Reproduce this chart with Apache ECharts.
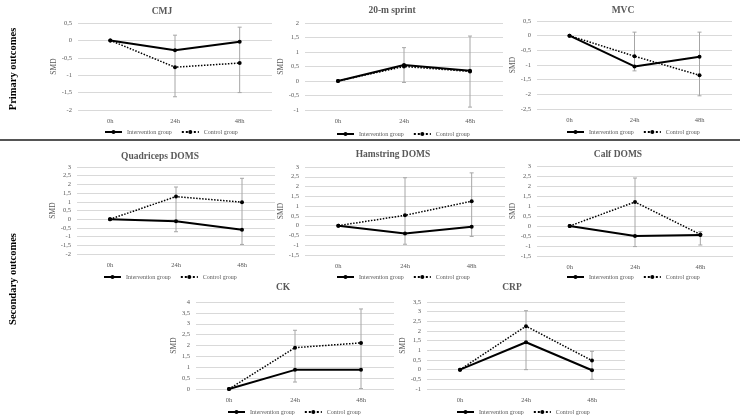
<!DOCTYPE html>
<html>
<head>
<meta charset="utf-8">
<script src="https://cdn.jsdelivr.net/npm/echarts@6/dist/echarts.min.js"></script>
<style>
  html, body { margin: 0; background: #fff; }
  #chart { width: 740px; height: 417px; }
</style>
</head>
<body>
<div id="chart"></div>
<script>
// time points
const times = ['0h', '24h', '48h'];

// values (SMD); top/bot = ends of the error bars
const cmjInt = [0, -0.28, -0.04];
const cmjCtl = [0, -0.77, -0.65];
const cmjTop = [null, 0.15, 0.38];
const cmjBot = [null, -1.62, -1.5];

const sprintInt = [0, 0.55, 0.35];
const sprintCtl = [0, 0.5, 0.33];
const sprintTop = [null, 1.15, 1.55];
const sprintBot = [null, -0.05, -0.9];

const mvcInt = [0, -1.05, -0.72];
const mvcCtl = [0, -0.7, -1.35];
const mvcTop = [null, 0.12, 0.12];
const mvcBot = [null, -1.2, -2.05];

const quadInt = [0, -0.12, -0.6];
const quadCtl = [0, 1.3, 0.98];
const quadTop = [null, 1.85, 2.35];
const quadBot = [null, -0.72, -1.45];

const hamInt = [0, -0.4, -0.05];
const hamCtl = [0, 0.53, 1.25];
const hamTop = [null, 2.45, 2.7];
const hamBot = [null, -0.95, -0.55];

const calfInt = [0, -0.5, -0.45];
const calfCtl = [0, 1.2, -0.42];
const calfTop = [null, 2.4, -0.28];
const calfBot = [null, -1.03, -0.95];

const ckInt = [0, 0.88, 0.88];
const ckCtl = [0, 1.9, 2.12];
const ckTop = [null, 2.7, 3.68];
const ckBot = [null, 0.32, 0.02];

const crpInt = [0, 1.42, -0.03];
const crpCtl = [0, 2.25, 0.47];
const crpTop = [null, 3.05, 0.95];
const crpBot = [null, 0, -0.5];

const panels = [
  { title: 'CMJ', int: cmjInt, ctl: cmjCtl, hi: cmjTop, lo: cmjBot, min: -2, max: 0.5, x: 78, y: 23, w: 194, h: 87, cx: 162, ty: 12, ly: 124, lx: 161 },
  { title: '20-m sprint', int: sprintInt, ctl: sprintCtl, hi: sprintTop, lo: sprintBot, min: -1, max: 2, x: 305, y: 23, w: 198, h: 87, cx: 392, ty: 11, ly: 126, lx: 393 },
  { title: 'MVC', int: mvcInt, ctl: mvcCtl, hi: mvcTop, lo: mvcBot, min: -2.5, max: 0.5, x: 537, y: 21, w: 195, h: 88, cx: 623, ty: 11, ly: 124, lx: 623 },
  { title: 'Quadriceps DOMS', int: quadInt, ctl: quadCtl, hi: quadTop, lo: quadBot, min: -2, max: 3, x: 77, y: 167, w: 198, h: 87, cx: 160, ty: 157, ly: 269, lx: 160 },
  { title: 'Hamstring DOMS', int: hamInt, ctl: hamCtl, hi: hamTop, lo: hamBot, min: -1.5, max: 3, x: 305, y: 167, w: 200, h: 88, cx: 393, ty: 155, ly: 269, lx: 393 },
  { title: 'Calf DOMS', int: calfInt, ctl: calfCtl, hi: calfTop, lo: calfBot, min: -1.5, max: 3, x: 537, y: 166, w: 196, h: 90, cx: 618, ty: 155, ly: 269, lx: 623 },
  { title: 'CK', int: ckInt, ctl: ckCtl, hi: ckTop, lo: ckBot, min: 0, max: 4, x: 196, y: 302, w: 198, h: 87, cx: 283, ty: 288, ly: 404, lx: 284 },
  { title: 'CRP', int: crpInt, ctl: crpCtl, hi: crpTop, lo: crpBot, min: -1, max: 3.5, x: 427, y: 302, w: 198, h: 87, cx: 512, ty: 288, ly: 404, lx: 513 }
];

const serif = '"Liberation Serif", "DejaVu Serif", serif';
const gray = '#595959';

function renderErr(params, api) {
  const x = api.value(0);
  const lo = api.coord([x, api.value(1)]);
  const hi = api.coord([x, api.value(2)]);
  const c = 2;
  const st = { stroke: '#a6a6a6', lineWidth: 1 };
  return {
    type: 'group',
    children: [
      { type: 'line', shape: { x1: lo[0], y1: lo[1], x2: hi[0], y2: hi[1] }, style: st },
      { type: 'line', shape: { x1: lo[0] - c, y1: lo[1], x2: lo[0] + c, y2: lo[1] }, style: st },
      { type: 'line', shape: { x1: hi[0] - c, y1: hi[1], x2: hi[0] + c, y2: hi[1] }, style: st }
    ]
  };
}

const grid = [], xAxis = [], yAxis = [], series = [], legend = [], graphic = [];

panels.forEach((p, i) => {
  grid.push({ left: p.x, top: p.y, width: p.w, height: p.h });
  xAxis.push({
    type: 'category', gridIndex: i, data: times,
    axisLine: { show: false }, axisTick: { show: false },
    axisLabel: { fontSize: 6.5, color: gray, fontFamily: serif, margin: 8 }
  });
  yAxis.push({
    type: 'value', gridIndex: i, min: p.min, max: p.max, interval: 0.5,
    name: 'SMD', nameLocation: 'middle', nameGap: 16,
    nameTextStyle: { fontSize: 7.5, color: gray, fontFamily: serif },
    axisLine: { show: false }, axisTick: { show: false },
    axisLabel: { fontSize: 6.5, color: gray, fontFamily: serif, margin: 6,
      formatter: v => String(v).replace('.', ',') },
    splitLine: { lineStyle: { color: '#d9d9d9', width: 1 } }
  });

  const errData = [];
  p.hi.forEach((h, k) => {
    if (h !== null) errData.push([k, p.lo[k], h]);
  });
  series.push({
    type: 'custom', name: 'err', xAxisIndex: i, yAxisIndex: i,
    renderItem: renderErr, data: errData, z: 1, silent: true
  });
  series.push({
    type: 'line', name: 'Intervention group', xAxisIndex: i, yAxisIndex: i,
    data: p.int, symbol: 'circle', symbolSize: 4,
    lineStyle: { color: '#000', width: 2 }, itemStyle: { color: '#000' }, z: 3
  });
  series.push({
    type: 'line', name: 'Control group', xAxisIndex: i, yAxisIndex: i,
    data: p.ctl, symbol: 'circle', symbolSize: 4,
    lineStyle: { color: '#000', width: 1.5, type: 'dotted' }, itemStyle: { color: '#000' }, z: 2
  });

  legend.push({
    data: ['Intervention group', 'Control group'],
    left: p.lx - 62, top: p.ly, itemWidth: 17, itemHeight: 5, itemGap: 9,
    selectedMode: false,
    textStyle: { fontSize: 6, color: gray, fontFamily: serif }
  });

  graphic.push({
    type: 'text', x: p.cx, y: p.ty,
    style: { text: p.title, x: 0, y: 0, textAlign: 'center', textVerticalAlign: 'middle',
      font: 'bold 9.5px ' + serif, fill: gray }
  });
});

graphic.push({
  type: 'text', x: 13, y: 69, rotation: Math.PI / 2,
  style: { text: 'Primary outcomes', textAlign: 'center', textVerticalAlign: 'middle',
    font: 'bold 10.5px ' + serif, fill: '#000' }
});
graphic.push({
  type: 'text', x: 13, y: 279, rotation: Math.PI / 2,
  style: { text: 'Secondary outcomes', textAlign: 'center', textVerticalAlign: 'middle',
    font: 'bold 10.5px ' + serif, fill: '#000' }
});
graphic.push({
  type: 'line', shape: { x1: 0, y1: 140, x2: 740, y2: 140 },
  style: { stroke: '#555', lineWidth: 2 }
});

const chart = echarts.init(document.getElementById('chart'));
chart.setOption({
  animation: false,
  grid, xAxis, yAxis, series, legend, graphic
});
</script>
</body>
</html>
